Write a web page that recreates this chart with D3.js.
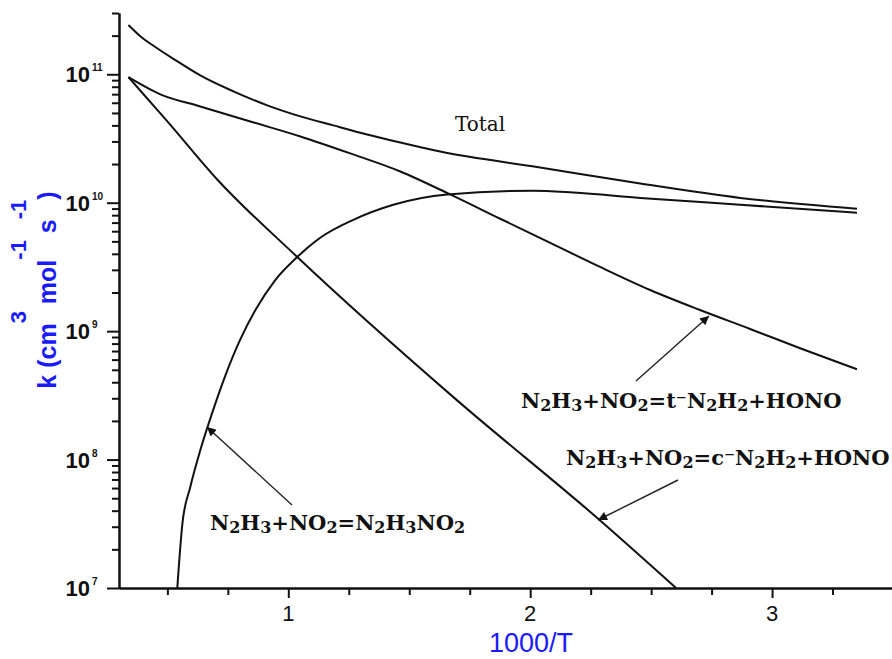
<!DOCTYPE html>
<html>
<head>
<meta charset="utf-8">
<script src="https://cdn.jsdelivr.net/npm/d3@7"></script>
<style>
  body { margin: 0; background: #fff; }
  svg { display: block; }
</style>
</head>
<body>
<svg id="chart" width="892" height="659"></svg>
<script>
// values: x is 1000/T, k in cm3 mol-1 s-1
const totalX = [0.339, 0.388, 0.450, 0.533, 0.636, 0.773, 0.913, 1.050, 1.186, 1.326, 1.463, 1.628, 2.041, 2.455, 2.868, 3.351];
const totalK = [2.42e11, 1.98e11, 1.63e11, 1.29e11, 9.8e10, 7.36e10, 5.73e10, 4.7e10, 4.0e10, 3.4e10, 2.94e10, 2.5e10, 1.88e10, 1.41e10, 1.09e10, 8.97e9];

const transX = [0.339, 0.471, 0.636, 0.843, 1.050, 1.256, 1.463, 1.669, 1.876, 2.083, 2.289, 2.496, 2.702, 2.909, 3.116, 3.351];
const transK = [9.5e10, 6.98e10, 5.62e10, 4.29e10, 3.28e10, 2.42e10, 1.75e10, 1.16e10, 7.5e9, 4.87e9, 3.16e9, 2.09e9, 1.46e9, 1.04e9, 7.36e8, 5.05e8];

const cisX = [0.339, 0.500, 0.707, 1.037, 1.698, 2.281, 2.603];
const cisK = [9.5e10, 4.3e10, 1.51e10, 3.78e9, 2.89e8, 3.46e7, 1.0e7];

const addX = [0.541, 0.562, 0.595, 0.636, 0.686, 0.740, 0.802, 0.864, 0.946, 1.037, 1.132, 1.269, 1.434, 1.657, 2.012, 2.178, 2.455, 2.868, 3.351];
const addK = [1.0e7, 3.16e7, 6.15e7, 1.18e8, 2.33e8, 4.53e8, 8.66e8, 1.46e9, 2.5e9, 3.78e9, 5.33e9, 7.36e9, 9.64e9, 1.16e10, 1.24e10, 1.2e10, 1.09e10, 9.64e9, 8.36e9];

const yMajor = [1e7, 1e8, 1e9, 1e10, 1e11];
const xMajor = [1, 2, 3];
const xMinor = [0.5, 0.75, 1.25, 1.5, 1.75, 2.25, 2.5, 2.75, 3.25];

const svg = d3.select("#chart");

var x = d3.scaleLinear().domain([0.3, 3.5]).range([119, 893]);
var y = d3.scaleLog().domain([1e7, 3e11]).range([588, 13]);

// minor ticks on the log axis: 2..9 in every decade
var yMinor = [];
for (let e = 7; e <= 11; e++) {
  for (let m = 2; m <= 9; m++) {
    if (m * Math.pow(10, e) <= 3e11) yMinor.push(m * Math.pow(10, e));
  }
}

const axisFont = "'Liberation Sans', Arial, sans-serif";

svg.append("g")
  .attr("transform", "translate(119,0)")
  .call(d3.axisLeft(y).tickValues(yMinor).tickSize(7).tickSizeOuter(0).tickFormat(""));
svg.append("g")
  .attr("transform", "translate(119,0)")
  .call(d3.axisLeft(y).tickValues(yMajor).tickSize(12).tickSizeOuter(0).tickFormat(""));

svg.append("g")
  .attr("transform", "translate(0,588)")
  .call(d3.axisBottom(x).tickValues(xMinor).tickSize(7).tickSizeOuter(0).tickFormat(""));
svg.append("g")
  .attr("transform", "translate(0,588)")
  .call(d3.axisBottom(x).tickValues(xMajor).tickSize(10).tickSizeOuter(0).tickFormat(""));

svg.selectAll(".domain, .tick line")
  .attr("stroke", "#111")
  .attr("stroke-width", 2);

// y tick labels as 10 with an exponent
yMajor.forEach(v => {
  svg.append("text")
    .attr("x", 90)
    .attr("y", y(v) + 8)
    .attr("text-anchor", "end")
    .style("font-family", axisFont)
    .style("font-weight", "bold")
    .style("font-size", "22px")
    .attr("fill", "#111")
    .text("10");
  svg.append("text")
    .attr("x", 92)
    .attr("y", y(v) - 3)
    .style("font-family", axisFont)
    .style("font-weight", "bold")
    .style("font-size", "10px")
    .attr("fill", "#111")
    .text(Math.round(Math.log10(v)));
});

xMajor.forEach(v => {
  svg.append("text")
    .attr("x", x(v))
    .attr("y", 621)
    .attr("text-anchor", "middle")
    .style("font-family", axisFont)
    .style("font-size", "22px")
    .attr("fill", "#111")
    .text(v);
});

// axis titles
svg.append("text")
  .attr("x", 531)
  .attr("y", 652)
  .attr("text-anchor", "middle")
  .style("font-family", axisFont)
  .style("font-size", "27px")
  .attr("fill", "#1a1aff")
  .text("1000/T");

var yLab = svg.append("text")
  .attr("transform", "translate(56,290) rotate(-90)")
  .attr("text-anchor", "middle")
  .style("font-family", axisFont)
  .style("font-weight", "bold")
  .style("font-size", "25px")
  .attr("fill", "#1a1aff");
[["k (cm", 0], ["3", -1], [" mol", 0], ["-1", -1], [" s", 0], ["-1", -1], [")", 0]].forEach((p, i, arr) => {
  const prev = i > 0 ? arr[i - 1][1] : 0;
  yLab.append("tspan")
    .attr("dy", (p[1] - prev) * 30)
    .style("font-size", p[1] ? "22px" : "25px")
    .text(p[0]);
});

// curves
svg.append("clipPath").attr("id", "plot")
  .append("rect").attr("x", 119).attr("y", 13).attr("width", 774).attr("height", 575);

var line = d3.line()
  .x(d => x(d[0]))
  .y(d => y(d[1]))
  .curve(d3.curveMonotoneX);

[[totalX, totalK], [transX, transK], [cisX, cisK], [addX, addK]].forEach(s => {
  svg.append("path")
    .datum(d3.zip(s[0], s[1]))
    .attr("clip-path", "url(#plot)")
    .attr("fill", "none")
    .attr("stroke", "#111")
    .attr("stroke-width", 2)
    .attr("d", line);
});

// annotations
const serif = "'DejaVu Serif', Georgia, serif";

svg.append("text")
  .attr("x", 455)
  .attr("y", 131)
  .style("font-family", serif)
  .style("font-size", "20px")
  .attr("fill", "#111")
  .text("Total");

function formula(str, px, py) {
  const t = svg.append("text")
    .attr("x", px)
    .attr("y", py)
    .style("font-family", serif)
    .style("font-weight", "bold")
    .style("font-size", "21px")
    .attr("fill", "#111");
  let low = false;
  str.match(/\d+|[^\d]+/g).forEach(seg => {
    const tspan = t.append("tspan").text(seg);
    if (/\d/.test(seg)) {
      tspan.attr("dy", 3).style("font-size", "16px");
      low = true;
    } else if (low) {
      tspan.attr("dy", -3);
      low = false;
    }
  });
}

formula("N2H3+NO2=t\u207BN2H2+HONO", 521, 408);
formula("N2H3+NO2=c\u207BN2H2+HONO", 566, 465);
formula("N2H3+NO2=N2H3NO2", 210, 530);

svg.append("defs").append("marker")
  .attr("id", "head")
  .attr("viewBox", "0 0 10 10")
  .attr("refX", 10)
  .attr("refY", 5)
  .attr("markerWidth", 12)
  .attr("markerHeight", 9)
  .attr("markerUnits", "userSpaceOnUse")
  .attr("orient", "auto")
  .append("path")
  .attr("d", "M0,0L10,5L0,10Z")
  .attr("fill", "#111");

const arrows = [[636, 381, 709, 316], [678, 480, 598, 520], [292, 505, 207, 427]];
arrows.forEach(a => {
  svg.append("line")
    .attr("x1", a[0]).attr("y1", a[1])
    .attr("x2", a[2]).attr("y2", a[3])
    .attr("stroke", "#222")
    .attr("stroke-width", 1.4)
    .attr("marker-end", "url(#head)");
});
</script>
</body>
</html>
